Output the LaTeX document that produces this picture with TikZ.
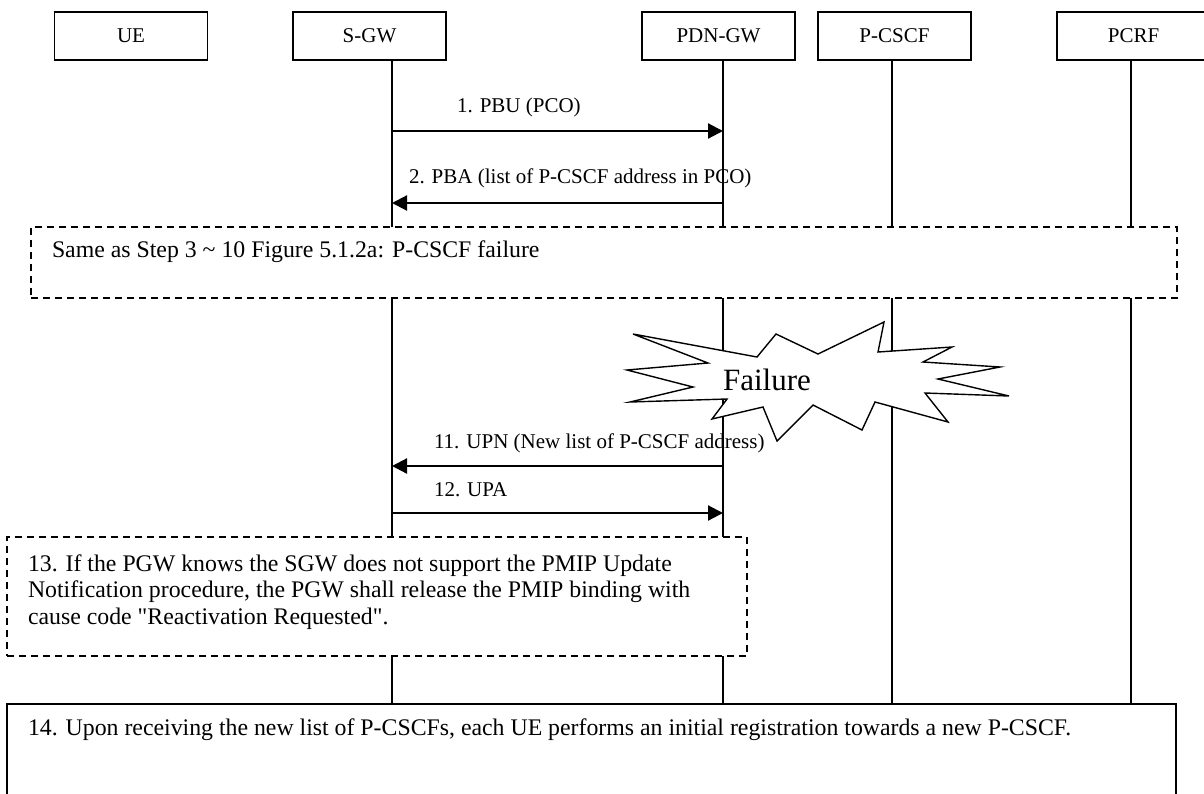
\documentclass[tikz,border=0pt]{standalone}
\usepackage{fontspec}
\setmainfont{Liberation Serif}
\usetikzlibrary{arrows.meta}

\begin{document}
\begin{tikzpicture}[x=1pt, y=-1pt]
\tikzset{ >={Triangle[length=15pt, width=15pt]}, inner sep=0pt, outer sep=0pt,
  font=\fontsize{21}{27}\selectfont,
  entity/.style={draw, line width=1.4pt, minimum width=153pt, minimum height=48pt},
  stepbox/.style={draw, dashed, line width=1.4pt, dash pattern=on 7pt off 5pt},
  steptext/.style={anchor=west, align=left, font=\fontsize{23.8}{26.5}\selectfont},
  life/.style={line width=1.4pt},
  msg/.style={->, line width=2.2pt},
}

\useasboundingbox (0,0) rectangle (1204,793);

%\draw [lightgray, dashed](0,0) grid [step=50] (1204,793);

% entities
\node [entity] (ue)    at (131,36)    {UE};
\node [entity] (sgw)   at (369.5,36)  {S-GW};
\node [entity] (pgw)   at (718.5,36)  {PDN-GW};
\node [entity] (pcscf) at (894.5,36)  {P-CSCF};
\node [entity] (pcrf)  at (1133.5,36) {PCRF};

% steps
\node [stepbox, minimum width=1146pt, minimum height=71pt]  (same)   at (604,262.5) {};
\node [stepbox, minimum width=740pt,  minimum height=119pt] (pmip)   at (377,596.5) {};
\node [draw, line width=1.4pt, minimum width=1169pt, minimum height=120pt] (regist) at (591.5,764) {};

\coordinate (sgw-x)   at (392,60);
\coordinate (pgw-x)   at (723,60);
\coordinate (pcscf-x) at (892,60);
\coordinate (pcrf-x)  at (1131,60);

% lifelines
\draw [life] (sgw-x)   -- (sgw-x |- same.north);
\draw [life] (pgw-x)   -- (pgw-x |- same.north);
\draw [life] (pcscf-x) -- (pcscf-x |- same.north);
\draw [life] (pcrf-x)  -- (pcrf-x |- same.north);

\draw [life] (sgw-x |- same.south)   -- (sgw-x |- pmip.north);
\draw [life] (pgw-x |- same.south)   -- (pgw-x |- pmip.north);
\draw [life] (pcscf-x |- same.south) -- (pcscf-x |- regist.north);
\draw [life] (pcrf-x |- same.south)  -- (pcrf-x |- regist.north);

\draw [life] (sgw-x |- pmip.south) -- (sgw-x |- regist.north);
\draw [life] (pgw-x |- pmip.south) -- (pgw-x |- regist.north);

% messages
\coordinate (m1)  at (0,131);
\coordinate (m2)  at (0,203);
\coordinate (m11) at (0,466);
\coordinate (m12) at (0,513);

\draw [msg] (sgw-x |- m1)  -- (pgw-x |- m1);
\draw [msg] (pgw-x |- m2)  -- (sgw-x |- m2);
\draw [msg] (pgw-x |- m11) -- (sgw-x |- m11);
\draw [msg] (sgw-x |- m12) -- (pgw-x |- m12);

\node [anchor=west] (m1-l) at (457,107) {1. PBU (PCO)};
\node [anchor=west] (m2-l) at (409,178) {2. PBA (list of P-CSCF address in PCO)};

% failure
\draw [life, fill=white] (633,334) -- (757,357) -- (776,334) -- (818,354) -- (884,322)
  -- (878,352) -- (952,347) -- (923,362) -- (1000,367) -- (938,379) -- (1009,396)
  -- (925,393) -- (948,422) -- (875,402) -- (862,430) -- (813,405) -- (777,441)
  -- (763,407) -- (712,419) -- (727,399) -- (630,402) -- (693,387) -- (627,370)
  -- (708,363) -- cycle;
\node (fail) at (767,380) {\fontsize{31}{36}\selectfont Failure};

\node [anchor=west] (m11-l) at (434,443) {11. UPN (New list of P-CSCF address)};
\node [anchor=west] (m12-l) at (434,490) {12. UPA};

% step texts
\node [steptext] (same-t) at (52,252) {Same as Step 3 \textasciitilde{} 10 Figure 5.1.2a: P-CSCF failure};
\node [steptext] (pmip-t) at (28,592) {13. If the PGW knows the SGW does not support the PMIP Update\\
Notification procedure, the PGW shall release the PMIP binding with\\
cause code \textquotedbl Reactivation Requested\textquotedbl.};
\node [steptext] (regist-t) at (28,730) {14. Upon receiving the new list of P-CSCFs, each UE performs an initial registration towards a new P-CSCF.};

\end{tikzpicture}
\end{document}
